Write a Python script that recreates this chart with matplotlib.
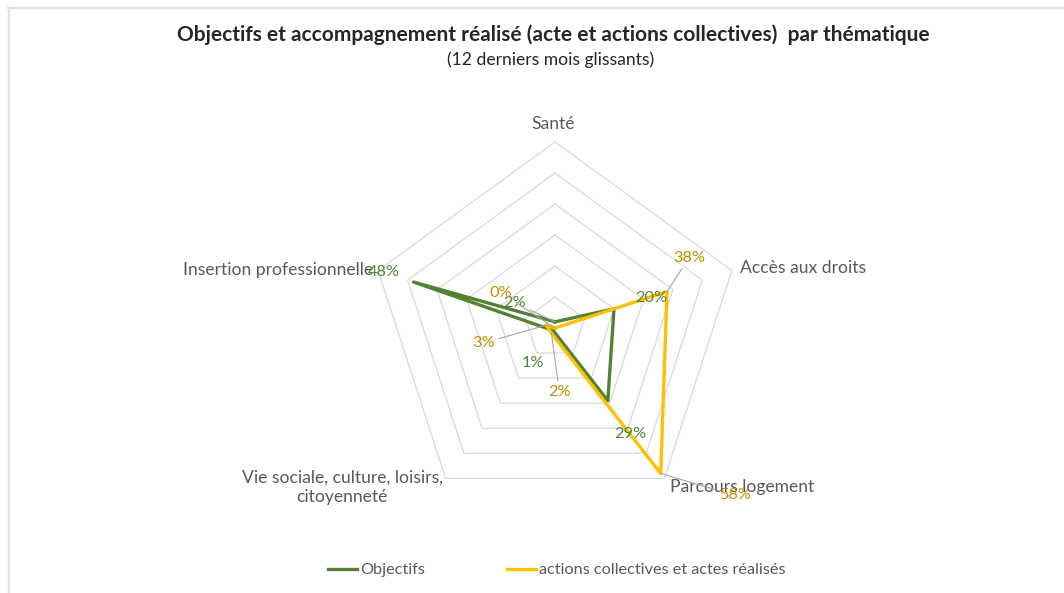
import numpy as np
import matplotlib
matplotlib.use("Agg")
import matplotlib.pyplot as plt
from matplotlib.lines import Line2D

plt.rcParams['font.family'] = ['Lato', 'DejaVu Sans']

categories = ["Santé", "Accès aux droits", "Parcours logement",
              "Vie sociale, culture, loisirs,\ncitoyenneté", "Insertion professionnelle"]
objectifs = [2, 20, 29, 1, 48]          # %
actions = [0, 38, 58, 2, 3]             # %
series_names = ["Objectifs", "actions collectives et actes réalisés"]
ring_levels = [10, 20, 30, 40, 50, 60]  # %

title = "Objectifs et accompagnement réalisé (acte et actions collectives)  par thématique"
subtitle = "(12 derniers mois glissants)"

GREEN = "#548235"
YELLOW = "#FFC000"
GREEN_TXT = "#548235"
YELLOW_TXT = "#BF9000"
GRID = "#d9d9d9"
TXT = "#595959"
LEADER = "#a6a6a6"

W, H = 1064, 593
fig = plt.figure(figsize=(W / 100, H / 100), dpi=100)

cx, cy, R = 555, 328, 186
ax = fig.add_axes([(cx - R) / W, (H - cy - R) / H, 2 * R / W, 2 * R / H], projection='polar')
ax.set_theta_offset(np.pi / 2)
ax.set_theta_direction(-1)
ax.set_ylim(0, max(ring_levels) / 100)
ax.set_xticks([])
ax.set_yticks([])
ax.grid(False)
ax.spines['polar'].set_visible(False)
ax.patch.set_visible(False)

n = len(categories)
angles = np.arange(n) * 2 * np.pi / n
closed = np.append(angles, angles[0])

for lv in ring_levels:
    ax.plot(closed, [lv / 100] * (n + 1), color=GRID, lw=0.9, zorder=1, clip_on=False)

obj = np.array(objectifs) / 100
act = np.array(actions) / 100
ax.plot(closed, np.append(obj, obj[0]), color=GREEN, lw=2.4, zorder=3,
        solid_joinstyle='round', clip_on=False)
ax.plot(closed, np.append(act, act[0]), color=YELLOW, lw=2.4, zorder=4,
        solid_joinstyle='round', clip_on=False)

# data labels (offsets in pixels), leader flag
obj_offsets = [(-40, 19, True), (37, 11, False), (22, -33, False), (-20, -32, False), (-30, 10, False)]
act_offsets = [(-54, 35, True), (22, 34, True), (74, -22, True), (8, -59, True), (-63, -18, True)]

def label(vals, offsets, color):
    for a, v, (dx, dy, lead) in zip(angles, vals, offsets):
        kw = {}
        if lead:
            kw['arrowprops'] = dict(arrowstyle='-', color=LEADER, lw=0.8,
                                    shrinkA=1, shrinkB=0)
        ax.annotate(f"{v}%", xy=(a, v / 100), xytext=(dx, dy), textcoords='offset pixels',
                    ha='center', va='center', color=color, fontsize=11.8, zorder=5,
                    annotation_clip=False, **kw)

label(objectifs, obj_offsets, GREEN_TXT)
label(actions, act_offsets, YELLOW_TXT)

# category labels
cat_pos = [(-2, 18, 'center'), (8, 3, 'left'), (6, -9, 'left'), (-3, -9, 'right'), (-5, 1, 'right')]
rmax = max(ring_levels) / 100
for a, c, (dx, dy, ha) in zip(angles, categories, cat_pos):
    ax.annotate(c, xy=(a, rmax), xytext=(dx, dy), textcoords='offset pixels',
                ha=ha, va='center', multialignment='center', color=TXT, fontsize=12.6,
                annotation_clip=False, linespacing=1.25)

fig.text(553 / W, 1 - 35 / H, title, ha='center', va='center', fontsize=15,
         fontweight='bold', color='#262626')
fig.text(551 / W, 1 - 60 / H, subtitle, ha='center', va='center', fontsize=12.6,
         color='#262626')

handles = [Line2D([], [], color=GREEN, lw=2.4), Line2D([], [], color=YELLOW, lw=2.4)]
leg = fig.legend(handles, series_names, loc='center', bbox_to_anchor=(557 / W, 1 - 570 / H),
                 ncol=2, frameon=False, fontsize=11.7, handlelength=1.8, handletextpad=0.2,
                 columnspacing=5.0)
for t in leg.get_texts():
    t.set_color(TXT)

# chart border
fig.add_artist(Line2D([8 / W, 1], [1 - 7.5 / H, 1 - 7.5 / H], color='#e3e3e3', lw=1.6))
fig.add_artist(Line2D([8.5 / W, 8.5 / W], [0, 1 - 7.5 / H], color='#e3e3e3', lw=1.6))

fig.savefig("out.png", dpi=100, facecolor='white')
